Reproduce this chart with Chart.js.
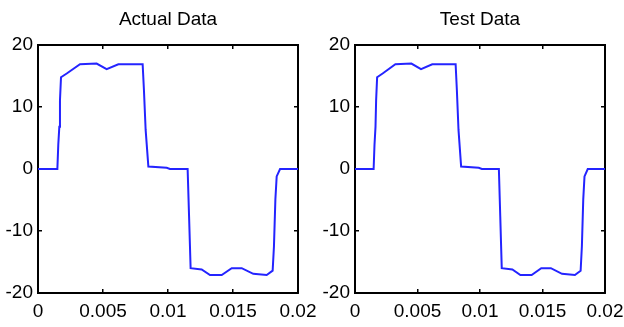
<!DOCTYPE html>
<html>
<head>
<meta charset="utf-8">
<script src="https://cdn.jsdelivr.net/npm/chart.js@4"></script>
<style>
  html, body { margin: 0; padding: 0; background: #fff; }
  .panel { position: absolute; top: 0; height: 327px; }
</style>
</head>
<body>
<div class="panel" style="left:0;width:330px"><canvas id="actual" width="330" height="327"></canvas></div>
<div class="panel" style="left:312px;width:312px"><canvas id="test" width="312" height="327"></canvas></div>
<script>
// time (s) and signal values
const timeSec = [0, 0.00149, 0.00156, 0.00164, 0.00169, 0.00177, 0.00221, 0.00323, 0.00451, 0.00528,
  0.00618, 0.00805, 0.00815, 0.00828, 0.00849, 0.0099, 0.01015, 0.01151, 0.01162, 0.01174,
  0.01259, 0.01323, 0.01413, 0.0149, 0.01567, 0.01656, 0.01759, 0.01805, 0.01815, 0.01826,
  0.01836, 0.01862, 0.02];
const actualValues = [0, 0, 3.9, 6.8, 11.1, 14.8, 15.4, 16.9, 17.0, 16.1,
  16.9, 16.9, 12.7, 6.3, 0.4, 0.2, 0, 0, -7.6, -16.0,
  -16.2, -17.1, -17.1, -16.0, -16.0, -16.9, -17.1, -16.4, -12.5, -4.9,
  -1.2, 0, 0];
const testValues = [0, 0, 3.9, 6.8, 11.1, 14.8, 15.4, 16.9, 17.0, 16.1,
  16.9, 16.9, 12.7, 6.3, 0.4, 0.2, 0, 0, -7.6, -16.0,
  -16.2, -17.1, -17.1, -16.0, -16.0, -16.9, -17.1, -16.4, -12.5, -4.9,
  -1.2, 0, 0];
const xTicks = [0, 0.005, 0.01, 0.015, 0.02];
const yTicks = [-20, -10, 0, 10, 20];

const FONT = "'Liberation Sans', Arial, sans-serif";

// title centred over the plot box, like matlab
const plotTitle = {
  id: 'plotTitle',
  afterDraw(chart, args, opts) {
    const { ctx, chartArea } = chart;
    ctx.save();
    ctx.font = '19px ' + FONT;
    ctx.fillStyle = '#000';
    ctx.textAlign = 'center';
    ctx.textBaseline = 'middle';
    ctx.fillText(opts.text, (chartArea.left + chartArea.right) / 2, opts.y);
    ctx.restore();
  }
};

function makeChart(id, title, values, axisW, padRight) {
  const pts = timeSec.map((t, i) => ({ x: t, y: values[i] }));
  const edge = { color: '#000', width: 2 };
  const inTicks = { drawOnChartArea: false, drawTicks: true, tickLength: -4, color: '#000', lineWidth: 1.5 };
  const noPadX = s => { s.paddingLeft = 0; s.paddingRight = 0; };
  const noPadY = s => { s.paddingTop = 0; s.paddingBottom = 0; };
  return new Chart(document.getElementById(id), {
    type: 'line',
    data: {
      datasets: [{
        data: pts,
        borderColor: '#2424ff',
        borderWidth: 2,
        pointRadius: 0,
        tension: 0,
        fill: false
      }]
    },
    options: {
      responsive: false,
      animation: false,
      layout: { padding: { top: 45, right: padRight, left: 0, bottom: 0 } },
      plugins: {
        legend: { display: false },
        tooltip: { enabled: false },
        plotTitle: { text: title, y: 20 }
      },
      scales: {
        x: {
          type: 'linear', position: 'bottom', min: 0, max: 0.02,
          afterBuildTicks: s => { s.ticks = xTicks.map(v => ({ value: v })); },
          afterFit: s => { s.height = 34; noPadX(s); },
          grid: inTicks, border: edge,
          ticks: { color: '#000', padding: 11, maxRotation: 0, font: { family: FONT, size: 19 }, callback: v => String(v) }
        },
        x2: {
          type: 'linear', position: 'top', min: 0, max: 0.02,
          afterBuildTicks: s => { s.ticks = xTicks.map(v => ({ value: v })); },
          afterFit: s => { s.height = 0; noPadX(s); },
          grid: inTicks, border: edge,
          ticks: { display: false }
        },
        y: {
          type: 'linear', position: 'left', min: -20, max: 20,
          afterBuildTicks: s => { s.ticks = yTicks.map(v => ({ value: v })); },
          afterFit: s => { s.width = axisW; noPadY(s); },
          grid: inTicks, border: edge,
          ticks: { color: '#000', padding: 9, font: { family: FONT, size: 19 }, callback: v => String(v) }
        },
        y2: {
          type: 'linear', position: 'right', min: -20, max: 20,
          afterBuildTicks: s => { s.ticks = yTicks.map(v => ({ value: v })); },
          afterFit: s => { s.width = 0; noPadY(s); },
          grid: inTicks, border: edge,
          ticks: { display: false }
        }
      }
    },
    plugins: [plotTitle]
  });
}

// left canvas is wider so its last x label can run under the transparent right canvas
makeChart('actual', 'Actual Data', actualValues, 38, 32);
makeChart('test', 'Test Data', testValues, 43, 19);
</script>
</body>
</html>
